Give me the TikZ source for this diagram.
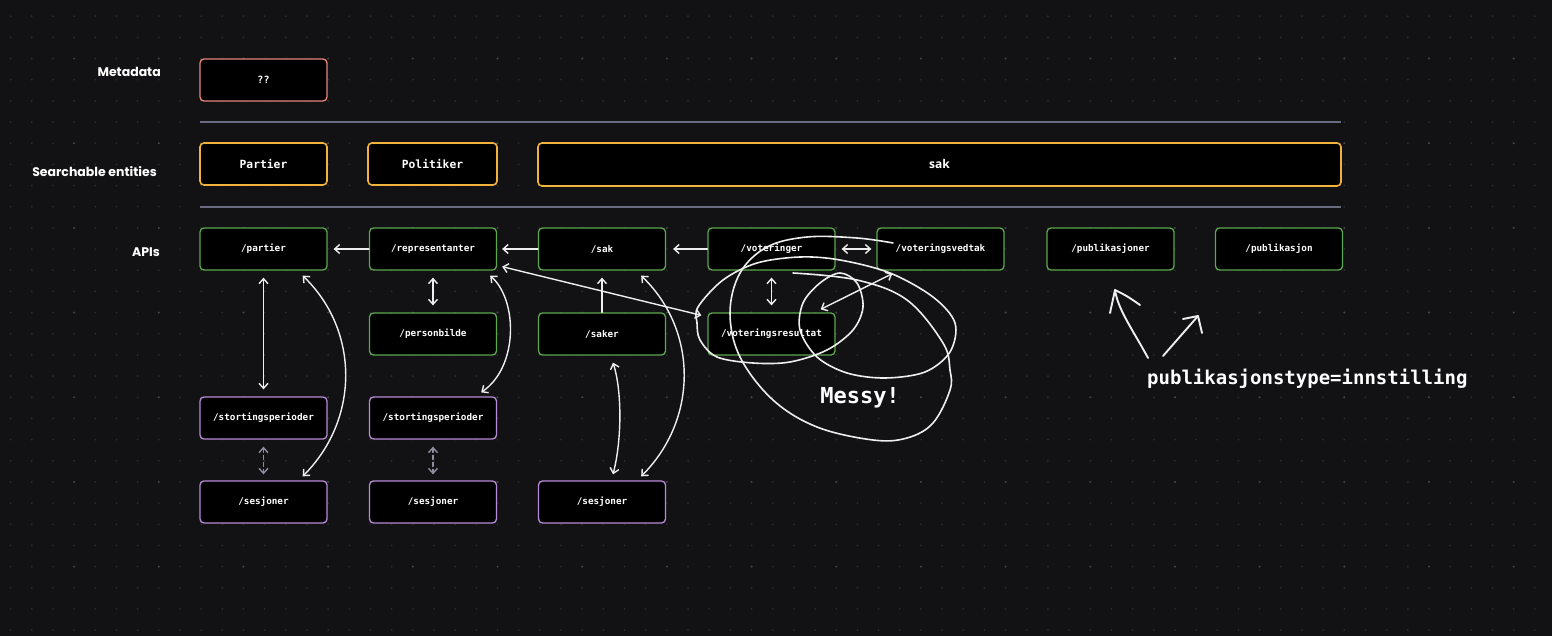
\documentclass[tikz,border=0pt]{standalone}
\usepackage{fontspec}
\usetikzlibrary{arrows.meta,calc}

\newfontfamily\boxmono{DejaVu Sans Mono}
\newfontfamily\labelfont{Poppins}
\newfontfamily\plainsans{Open Sans}

\definecolor{canvas}{HTML}{121214}
\definecolor{dotdim}{HTML}{2B2B30}
\definecolor{dotbright}{HTML}{434349}
\definecolor{metaborder}{HTML}{E8877C}
\definecolor{entityborder}{HTML}{F2B33D}
\definecolor{apiborder}{HTML}{5BA84E}
\definecolor{timeborder}{HTML}{B88AD8}
\definecolor{sepline}{HTML}{6A6A80}
\definecolor{linkwhite}{HTML}{EEEEEE}
\definecolor{dashgray}{HTML}{8E8EA0}

\tikzset{
  basebox/.style={draw, fill=black, rounded corners=4pt, line width=1.3pt,
    minimum width=127pt, minimum height=42pt, inner sep=0pt, text=white},
  metabox/.style={basebox, draw=metaborder,
    font=\boxmono\bfseries\fontsize{10}{12}\selectfont},
  entitybox/.style={basebox, draw=entityborder, line width=1.6pt,
    font=\boxmono\bfseries\fontsize{11.3}{13}\selectfont},
  apibox/.style={basebox, draw=apiborder,
    font=\boxmono\bfseries\fontsize{9.3}{11}\selectfont},
  timebox/.style={basebox, draw=timeborder,
    font=\boxmono\bfseries\fontsize{9.3}{11}\selectfont},
  rowlabel/.style={anchor=east, text=white, inner sep=0pt,
    font=\labelfont\bfseries\fontsize{12.5}{14}\selectfont},
  separator/.style={draw=sepline, line width=1.5pt},
  barb/.tip={Straight Barb[length=5pt,width=9pt]},
  link/.style={draw=linkwhite, line width=1.4pt, line cap=round, -barb},
  twoway/.style={link, barb-barb},
  dashedlink/.style={twoway, draw=dashgray, dash pattern=on 4pt off 3pt},
  scribble/.style={draw=linkwhite, line width=1.6pt, line cap=round, line join=round},
}

\begin{document}
\begin{tikzpicture}[x=1pt, y=-1pt]
  % canvas and dot grid
  \useasboundingbox (0,0) rectangle (1552,636);
  \fill[canvas] (0,0) rectangle (1552,636);
  \foreach \i in {0,...,73} {
    \foreach \j in {0,...,29} {
      \fill[dotdim] ({10.6+21.17*\i},{16.2+21.17*\j}) circle (1pt);
    }
  }
  \foreach \i in {3,7,...,71} {
    \foreach \j in {2,6,...,26} {
      \fill[dotbright] ({10.6+21.17*\i},{16.2+21.17*\j}) circle (1.1pt);
    }
  }

  % row labels
  \node[rowlabel] (lblmeta) at (161,72) {Metadata};
  \node[rowlabel] (lblsearch) at (157,172) {Searchable entities};
  \node[rowlabel] (lblapi) at (160,252) {APIs};

  % metadata row
  \node[metabox] (meta) at (263.5,80) {??};

  % separators
  \coordinate (sepAl) at (200,122);
  \coordinate (sepAr) at (1341,122);
  \coordinate (sepBl) at (200,207);
  \coordinate (sepBr) at (1341,207);
  \draw[separator] (sepAl) -- (sepAr);
  \draw[separator] (sepBl) -- (sepBr);

  % searchable entities
  \node[entitybox] (entpartier) at (263.5,164) {Partier};
  \node[entitybox, minimum width=129pt] (entpolitiker) at (432.5,164) {Politiker};
  \node[entitybox, minimum width=803pt, minimum height=43pt,
        font=\plainsans\bfseries\fontsize{12}{14}\selectfont] (entsak) at (939.5,164.5) {sak};

  % API endpoints
  \node[apibox] (partier) at (263.5,249) {/partier};
  \node[apibox] (representanter) at (433,249) {/representanter};
  \node[apibox] (sak) at (602,249) {/sak};
  \node[apibox] (voteringer) at (771.5,249) {/voteringer};
  \node[apibox] (voteringsvedtak) at (940.5,249) {/voteringsvedtak};
  \node[apibox] (publikasjoner) at (1110.5,249) {/publikasjoner};
  \node[apibox] (publikasjon) at (1279,249) {/publikasjon};

  \node[apibox] (personbilde) at (433,334) {/personbilde};
  \node[apibox] (saker) at (602,334) {/saker};
  \node[apibox] (voteringsresultat) at (771.5,334) {/voteringsresultat};

  \node[timebox] (stortA) at (263.5,418) {/stortingsperioder};
  \node[timebox] (stortB) at (433,418) {/stortingsperioder};

  \node[timebox] (sesA) at (263.5,502) {/sesjoner};
  \node[timebox] (sesB) at (433,502) {/sesjoner};
  \node[timebox] (sesC) at (602,502) {/sesjoner};

  % horizontal links in the API row
  \draw[link, shorten >=6pt] (representanter.west) -- (partier.east);
  \draw[link, shorten >=5pt] (sak.west) -- (representanter.east);
  \draw[link, shorten >=7pt] (voteringer.west) -- (sak.east);
  \draw[twoway, shorten <=6pt, shorten >=5pt] (voteringer.east) -- (voteringsvedtak.west);

  % vertical links
  \draw[twoway, shorten <=7pt, shorten >=7pt] (partier.south) -- (stortA.north);
  \draw[twoway, shorten <=7pt, shorten >=7pt] (representanter.south) -- (personbilde.north);
  \draw[twoway, shorten <=7pt, shorten >=7pt] (voteringer.south) -- (voteringsresultat.north);
  \draw[link, shorten >=7pt] (saker.north) -- (sak.south);
  \draw[dashedlink, shorten <=7pt, shorten >=6pt] (stortA.south) -- (sesA.north);
  \draw[dashedlink, shorten <=7pt, shorten >=6pt] (stortB.south) -- (sesB.north);

  % curved links
  \draw[twoway] ($(partier.south east)+(-25,5)$)
      .. controls +(57,55) and +(57,-57) .. ($(sesA.north east)+(-25,-4)$);
  \draw[twoway] ($(representanter.south east)+(-7,5)$)
      .. controls +(28,25) and +(37,-25) .. ($(stortB.north east)+(-16,-4)$);
  \draw[twoway] ($(sak.south east)+(-25,5)$)
      .. controls +(57,55) and +(57,-57) .. ($(sesC.north east)+(-25,-4)$);
  \draw[twoway] ($(saker.south)+(11,7)$)
      .. controls +(9,28) and +(9,-35) .. ($(sesC.north)+(11,-6)$);

  % diagonal links
  \draw[twoway] ($(representanter.south east)+(5,-4)$) -- ($(voteringsresultat.north west)+(-6,3)$);
  \draw[twoway] ($(voteringsresultat.north east)+(-15,-3)$) -- ($(voteringsvedtak.south west)+(16,3)$);

  % scribbles around the voting endpoints
  \draw[scribble] plot[smooth cycle, tension=0.55] coordinates {
    (955,323) (950,352) (925,372) (885,378) (847,373) (817,357) (800,330)
    (803,303) (820,283) (840,273) (857,283) (863,307) (853,330) (827,350)
    (790,362) (753,363) (717,357) (700,340) (697,323) (698,307) (723,280)
    (757,263) (800,257) (840,260) (890,273) (933,297)};
  \draw[scribble] plot[smooth, tension=0.6] coordinates {
    (893,243) (857,238) (807,237) (767,247) (740,273) (730,313) (740,357)
    (773,400) (817,427) (873,440) (907,438) (933,423) (950,390) (950,370)
    (943,343) (907,300) (857,280) (793,273)};
  \node[text=white, font=\boxmono\bfseries\fontsize{22}{26}\selectfont] (messy) at (860,398) {Messy!};

  % publication type note with hand-drawn arrows
  \node[anchor=west, inner sep=0pt, text=white,
        font=\boxmono\bfseries\fontsize{19}{22}\selectfont] (ptype) at (1147,379) {publikasjonstype=innstilling};
  \coordinate (noteA) at (1148,358);
  \coordinate (tipA) at (1115,290);
  \coordinate (noteB) at (1163,356);
  \coordinate (tipB) at (1198,316);
  \draw[scribble, line width=1.9pt] (noteA) .. controls (1133,330) and (1118,310) .. (tipA);
  \draw[scribble, line width=1.9pt] (1110,313) -- (tipA) .. controls (1127,296) .. (1140,305);
  \draw[scribble, line width=1.9pt] (noteB) -- (tipB);
  \draw[scribble, line width=1.9pt] (1183,319) -- (tipB) -- (1202,333);
\end{tikzpicture}
\end{document}
